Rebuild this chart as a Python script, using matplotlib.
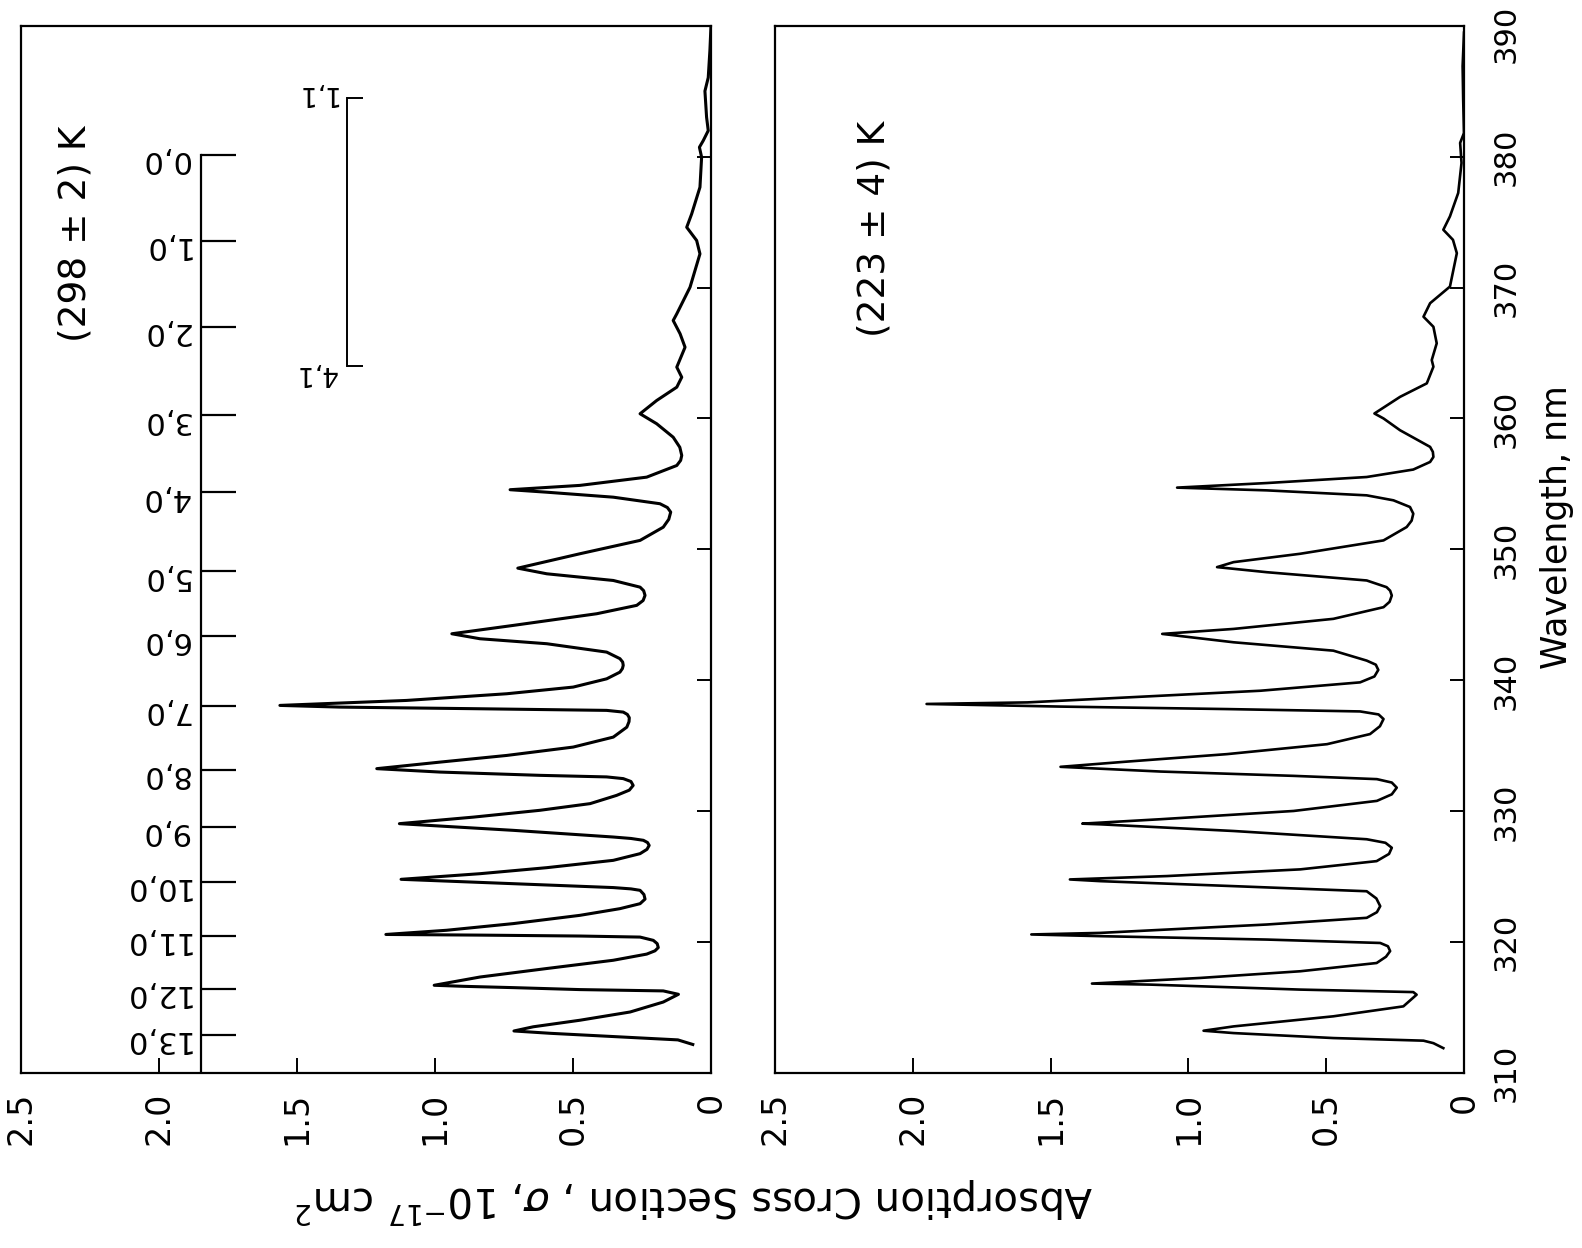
import matplotlib
matplotlib.use("Agg")
import matplotlib.pyplot as plt

# ---------------- data ----------------
wl_298 = [312.2, 312.55, 312.8, 313.05, 313.23, 313.55, 314.05, 314.68, 315.44, 316.03,
          316.29, 316.39, 316.54, 316.64, 316.72, 317.35, 318.0, 318.63, 319.1, 319.35,
          319.6, 319.9, 320.15, 320.4, 320.48, 320.55, 320.6, 320.92, 321.43, 322.06,
          322.57, 322.95, 323.3, 323.65, 323.97, 324.08, 324.18, 324.48, 324.81, 325.24,
          325.7, 326.26, 326.77, 327.1, 327.4, 327.62, 327.79, 327.93, 328.04, 328.55,
          329.06, 329.56, 330.08, 330.59, 331.22, 331.62, 331.98, 332.28, 332.5, 332.63,
          332.75, 333.0, 333.26, 333.76, 334.27, 334.91, 335.67, 336.43, 336.85, 337.15,
          337.4, 337.58, 337.71, 337.84, 337.96, 338.09, 338.47, 338.98, 339.49, 340.12,
          340.63, 340.9, 341.15, 341.4, 341.66, 342.16, 342.8, 343.18, 343.56, 344.2,
          345.09, 345.73, 346.1, 346.49, 346.85, 347.12, 347.63, 348.14, 348.57, 349.67,
          350.69, 351.7, 352.3, 352.85, 353.2, 353.49, 353.99, 354.37, 354.56, 354.89,
          355.52, 356.41, 356.8, 357.18, 357.8, 358.57, 359.6, 360.36, 361.37, 362.39,
          363.15, 363.92, 365.44, 366.47, 367.48, 367.99, 370.02, 372.57, 373.59, 374.6,
          375.62, 377.66, 379.95, 380.71, 381.22, 381.98, 383.0, 385.0, 386.03, 388.1,
          390.0]
sig_298 = [0.066, 0.12, 0.35, 0.58, 0.714, 0.644, 0.475, 0.293, 0.173, 0.118,
           0.173, 0.475, 0.716, 0.897, 1.003, 0.837, 0.595, 0.354, 0.233, 0.203,
           0.191, 0.195, 0.209, 0.257, 0.475, 0.837, 1.178, 0.958, 0.716, 0.475,
           0.330, 0.257, 0.239, 0.243, 0.257, 0.29, 0.354, 0.716, 1.123, 0.837,
           0.595, 0.354, 0.257, 0.232, 0.224, 0.23, 0.245, 0.29, 0.354, 0.716,
           1.129, 0.861, 0.620, 0.438, 0.342, 0.296, 0.282, 0.29, 0.318, 0.378,
           0.620, 0.982, 1.211, 0.982, 0.740, 0.499, 0.354, 0.305, 0.297, 0.296,
           0.303, 0.318, 0.378, 0.861, 1.344, 1.562, 1.103, 0.740, 0.499, 0.378,
           0.330, 0.321, 0.318, 0.320, 0.330, 0.378, 0.595, 0.837, 0.939, 0.716,
           0.414, 0.269, 0.246, 0.239, 0.244, 0.257, 0.354, 0.595, 0.700, 0.475,
           0.257, 0.173, 0.153, 0.146, 0.158, 0.185, 0.354, 0.595, 0.728, 0.475,
           0.233, 0.124, 0.110, 0.106, 0.113, 0.137, 0.197, 0.257, 0.197, 0.124,
           0.106, 0.124, 0.094, 0.112, 0.137, 0.124, 0.076, 0.040, 0.052, 0.088,
           0.070, 0.040, 0.034, 0.042, 0.028, 0.010, 0.016, 0.022, 0.010, 0.004,
           0.0]

wl_223 = [311.92, 312.3, 312.49, 312.69, 313.07, 313.25, 313.58, 314.35, 315.11, 316.0,
          316.2, 316.39, 316.77, 316.85, 317.28, 317.79, 318.42, 318.9, 319.33, 319.7,
          319.95, 320.21, 320.47, 320.6, 320.72, 321.36, 321.87, 322.3, 322.76, 323.35,
          323.9, 324.29, 324.67, 324.8, 325.06, 325.57, 326.2, 326.75, 327.22, 327.6,
          327.87, 328.5, 329.01, 329.06, 329.4, 330.03, 330.8, 331.3, 331.81, 332.2,
          332.46, 332.71, 333.04, 333.4, 333.8, 334.37, 335.13, 335.9, 336.5, 337.05,
          337.4, 337.63, 337.81, 338.0, 338.2, 338.32, 338.7, 339.21, 339.85, 340.3,
          340.8, 341.2, 341.51, 342.27, 342.91, 343.55, 343.93, 344.7, 345.59, 346.0,
          346.48, 346.85, 347.12, 347.63, 348.26, 348.65, 349.03, 349.67, 350.69, 351.71,
          352.2, 352.73, 353.24, 353.75, 354.13, 354.51, 354.72, 355.07, 355.53, 356.1,
          356.68, 357.06, 357.45, 357.83, 359.1, 360.0, 360.38, 361.65, 362.68, 363.95,
          364.46, 365.74, 367.0, 367.77, 368.8, 370.07, 372.62, 373.64, 374.41, 375.43,
          377.22, 379.51, 381.04, 381.8, 384.35, 386.9, 389.46]
sig_223 = [0.075, 0.111, 0.147, 0.474, 0.836, 0.945, 0.836, 0.474, 0.22, 0.172,
           0.184, 0.594, 1.138, 1.35, 0.957, 0.594, 0.317, 0.283, 0.268, 0.276,
           0.304, 0.715, 1.319, 1.57, 1.319, 0.715, 0.353, 0.316, 0.304, 0.318,
           0.353, 0.836, 1.319, 1.43, 1.077, 0.594, 0.317, 0.272, 0.262, 0.285,
           0.353, 0.836, 1.319, 1.385, 1.101, 0.618, 0.316, 0.262, 0.244, 0.262,
           0.316, 0.618, 1.101, 1.464, 1.222, 0.860, 0.497, 0.341, 0.305, 0.292,
           0.31, 0.377, 0.860, 1.464, 1.95, 1.584, 1.222, 0.739, 0.377, 0.325,
           0.311, 0.32, 0.353, 0.474, 0.836, 1.095, 0.836, 0.474, 0.292, 0.27,
           0.262, 0.268, 0.281, 0.353, 0.715, 0.896, 0.836, 0.594, 0.292, 0.208,
           0.19, 0.184, 0.196, 0.256, 0.353, 0.715, 1.041, 0.715, 0.353, 0.184,
           0.123, 0.111, 0.113, 0.123, 0.232, 0.292, 0.325, 0.232, 0.135, 0.111,
           0.117, 0.099, 0.111, 0.147, 0.123, 0.051, 0.026, 0.040, 0.075, 0.051,
           0.021, 0.009, 0.014, 0.0, 0.003, 0.005, 0.0]

band_labels = ["13,0", "12,0", "11,0", "10,0", "9,0", "8,0", "7,0",
               "6,0", "5,0", "4,0", "3,0", "2,0", "1,0", "0,0"]
band_wl = [312.95, 316.41, 320.46, 324.6, 328.8, 333.13, 338.02,
           343.36, 348.32, 354.35, 360.23, 367.02, 373.53, 380.15]
hot_labels = ["4,1", "1,1"]
hot_wl = [363.99, 384.45]

sigma_ticks = [0, 0.5, 1.0, 1.5, 2.0, 2.5]
sigma_ticklabels = ["0", "0.5", "1.0", "1.5", "2.0", "2.5"]
wl_ticks = [310, 320, 330, 340, 350, 360, 370, 380, 390]
wl_ticklabels = ["310", "320", "330", "340", "350", "360", "370", "380", "390"]
temps = ["(298 ± 2) K", "(223 ± 4) K"]

assert len(wl_298) == len(sig_298) and len(wl_223) == len(sig_223)

# ---------------- figure ----------------
W, H = 1582, 1248
fig = plt.figure(figsize=(W / 100, H / 100), dpi=100)
fig.patch.set_facecolor("white")
plt.rcParams["font.family"] = ["DejaVu Sans"]

bottom, height = 0.1400, 0.8395
axL = fig.add_axes([21 / W, bottom, 690 / W, height])
axR = fig.add_axes([775 / W, bottom, 689 / W, height])

for ax in (axL, axR):
    ax.set_xlim(2.5, 0)
    ax.set_ylim(310, 390)
    for s in ax.spines.values():
        s.set_linewidth(1.6)
    ax.set_xticks(sigma_ticks)
    ax.set_xticklabels(sigma_ticklabels, rotation=90, fontsize=24)
    ax.tick_params(axis="x", direction="in", length=11, width=1.4, pad=13,
                   bottom=True, top=False)
    ax.set_yticks(wl_ticks)
    ax.tick_params(axis="y", direction="in", length=10, width=1.4,
                   left=False, right=True, labelleft=False)

axL.tick_params(axis="y", labelright=False)
# all wavelength labels but the top one go on the ticks; the top one is
# nudged down a little so it stays inside the canvas, as in the reference
axR.set_yticklabels(wl_ticklabels[:-1] + [""], rotation=90, fontsize=22, va="center")
axR.tick_params(axis="y", labelright=True, pad=20)
axR.annotate(wl_ticklabels[-1], xy=(1, wl_ticks[-1]),
             xycoords=("axes fraction", "data"), xytext=(20, -6),
             textcoords="offset points", rotation=90, ha="left", va="center",
             fontsize=22)

axL.plot(sig_298, wl_298, color="black", lw=2.2, solid_joinstyle="round")
axR.plot(sig_223, wl_223, color="black", lw=1.9, solid_joinstyle="round")

# band assignment scale (left panel)
x_line, x_tick, x_lab = 1.848, 1.72, 1.89
axL.plot([x_line, x_line], [310, band_wl[-1]], color="black", lw=1.6)
axL.hlines(band_wl, x_tick, x_line, color="black", lw=1.6)
for lab, w in zip(band_labels, band_wl):
    axL.text(x_lab, w - 0.35, lab, rotation=180, ha="right", va="center",
             fontsize=22)

# hot band bracket
xb, xbt = 1.319, 1.26
axL.plot([xb, xb], [hot_wl[0], hot_wl[1]], color="black", lw=1.4)
axL.hlines(hot_wl, xbt, xb, color="black", lw=1.4)
axL.text(1.355, hot_wl[0] - 0.5, hot_labels[0], rotation=180, ha="right",
         va="center", fontsize=19)
axL.text(1.355, hot_wl[1] + 0.4, hot_labels[1], rotation=180, ha="right",
         va="center", fontsize=19)

axL.text(2.304, 374.1, temps[0], rotation=90, ha="center", va="center", fontsize=27)
axR.text(2.138, 374.5, temps[1], rotation=90, ha="center", va="center", fontsize=27)

fig.text(0.984, 0.578, "Wavelength, nm", rotation=90, ha="center", va="center",
         fontsize=25)
fig.text(0.4385, 0.0385, r"Absorption Cross Section , $\sigma$, 10$^{-17}$ cm$^{2}$",
         rotation=180, ha="center", va="center", fontsize=29)

fig.savefig("out.png", dpi=100, facecolor="white")
